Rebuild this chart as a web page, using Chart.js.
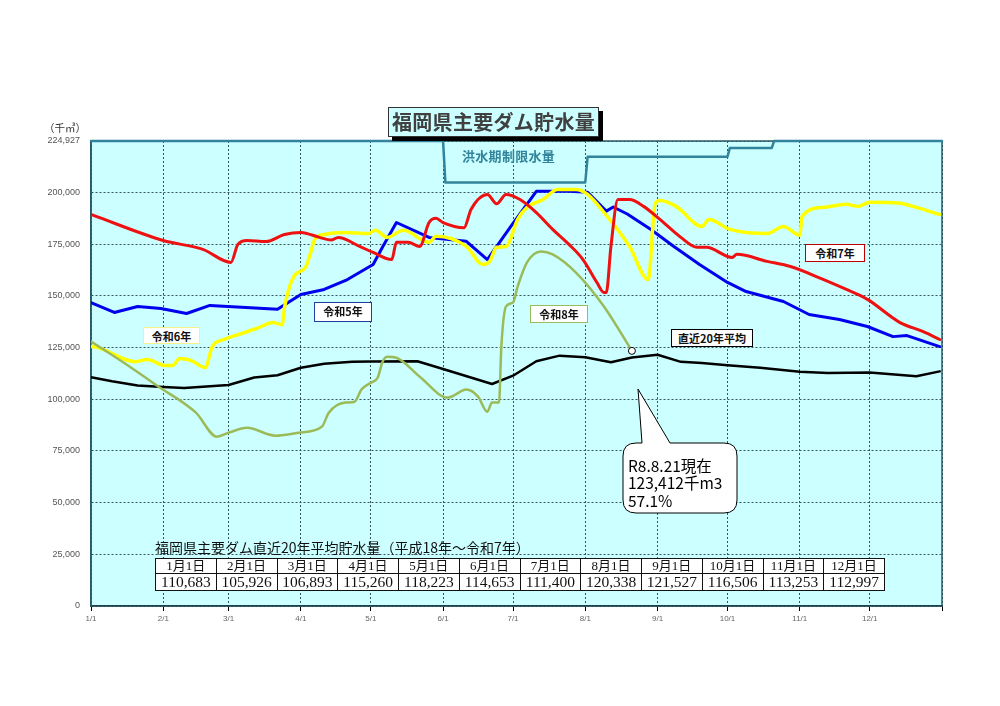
<!DOCTYPE html>
<html><head><meta charset="utf-8">
<script src="https://cdn.jsdelivr.net/npm/chart.js@4.4.1/dist/chart.umd.min.js"></script>
<style>
body{margin:0;background:#fff;}
#wrap{position:relative;width:1000px;height:706px;overflow:hidden;font-family:"Noto Sans CJK JP","Noto Sans",sans-serif;}
#c{position:absolute;left:0;top:0;}
.lbl{position:absolute;background:#fff;font-weight:bold;font-size:11px;color:#111;text-align:center;box-sizing:border-box;line-height:16px;}
#title{position:absolute;left:388px;top:107px;width:211px;height:30px;background:#ccffff;border:1px solid #333;box-shadow:4px 4px 0 #000;box-sizing:border-box;font-size:20px;font-weight:bold;color:#404040;text-align:center;line-height:27px;letter-spacing:0.3px;}
#unit{position:absolute;left:44px;top:120px;font-size:10.5px;color:#333;}
#flood{position:absolute;left:462px;top:146px;font-size:13px;font-weight:bold;color:#31849b;letter-spacing:0.3px;}
#ttl2{position:absolute;left:155px;top:537px;font-size:14px;color:#111;white-space:nowrap;}
#tbl{position:absolute;left:155px;top:558px;border-collapse:collapse;table-layout:fixed;width:730px;background:#fff;}
#tbl td{border:1px solid #111;text-align:center;padding:0;font-family:"Liberation Serif","Noto Sans CJK JP",serif;color:#111;overflow:hidden;white-space:nowrap;}
#tbl tr.h td{height:14px;font-size:13px;line-height:14px;}
#tbl tr.v td{height:16px;font-size:15.5px;line-height:16px;}
#call{position:absolute;left:0;top:0;}
</style></head>
<body><div id="wrap">
<canvas id="c" width="1000" height="706"></canvas>
<div id="title">福岡県主要ダム貯水量</div>
<div id="unit">（千㎥）</div>
<div id="flood">洪水期制限水量</div>
<div class="lbl" style="left:143px;top:327px;width:57px;height:17px;border:1px solid #f4f08a;">令和6年</div>
<div class="lbl" style="left:314px;top:302px;width:58px;height:20px;border:1.5px solid #1f3fa0;line-height:17px;">令和5年</div>
<div class="lbl" style="left:530px;top:305px;width:58px;height:18px;border:1.5px solid #9bbb59;">令和8年</div>
<div class="lbl" style="left:805px;top:244px;width:60px;height:18px;border:1px solid #c00000;">令和7年</div>
<div class="lbl" style="left:671px;top:329px;width:82px;height:18px;border:1.5px solid #000;">直近20年平均</div>
<svg id="call" width="1000" height="706">
<path d="M636 443 L642 443 L638 389 L670 443 L724 443 Q737 443 737 456 L737 500 Q737 513 724 513 L636 513 Q623 513 623 500 L623 456 Q623 443 636 443 Z" fill="#fff" stroke="#000" stroke-width="1"/>
<text x="628" y="472" font-size="15.5" font-family="Noto Sans CJK JP" fill="#000">R8.8.21現在</text>
<text x="628" y="489" font-size="15.5" font-family="Noto Sans CJK JP" fill="#000">123,412千m3</text>
<text x="628" y="507" font-size="15.5" font-family="Noto Sans CJK JP" fill="#000">57.1%</text>
</svg>
<div id="ttl2">福岡県主要ダム直近20年平均貯水量（平成18年～令和7年）</div>
<table id="tbl"><tr class="h" id="hrow"></tr><tr class="v" id="vrow"></tr></table>
</div>
<script>
// ---- axis ticks ----
const monthDays = [0, 31, 59, 90, 120, 151, 181, 212, 243, 273, 304, 334, 365];
const monthLabels = ['1/1','2/1','3/1','4/1','5/1','6/1','7/1','8/1','9/1','10/1','11/1','12/1',''];
const yTicks = [0, 25000, 50000, 75000, 100000, 125000, 150000, 175000, 200000, 224927];

// ---- table (20-year average on 1st of month) ----
const tableLabels = ['1月1日','2月1日','3月1日','4月1日','5月1日','6月1日','7月1日','8月1日','9月1日','10月1日','11月1日','12月1日'];
const tableValues = [110683, 105926, 106893, 115260, 118223, 114653, 111400, 120338, 121527, 116506, 113253, 112997];

// ---- series (day of year, 千m3) ----
const avgDays = [0, 9, 20, 31, 40, 59, 70, 80, 90, 100, 112, 120, 140, 151, 172, 181, 191, 201, 212, 223, 232, 243, 253, 262, 273, 287, 304, 316, 334, 354, 364];
const avgValues = [110683, 108700, 106700, 105926, 105500, 106893, 110500, 111600, 115260, 117200, 118100, 118223, 118400, 114653, 107400, 111400, 118400, 121100, 120338, 117900, 120200, 121527, 118100, 117600, 116506, 115200, 113253, 112700, 112997, 111100, 113500];

const r5Days = [0, 10, 20, 30, 41, 51, 80, 90, 100, 110, 121, 125, 131, 145, 161, 170, 180, 191, 205, 213, 221, 224, 230, 240, 250, 261, 273, 281, 297, 308, 321, 333, 344, 350, 364];
const r5Values = [146800, 142000, 144900, 143900, 141500, 145400, 143500, 150700, 153100, 157900, 165200, 173500, 185500, 178300, 176400, 167600, 183500, 200600, 200600, 200100, 191000, 193000, 189600, 182200, 173900, 165200, 156500, 152100, 147300, 141000, 138600, 135200, 130300, 130800, 125500];

const r6Days = [0, 3, 19, 24, 32, 35, 38, 43, 49, 52, 57, 66, 72, 78, 82, 83, 87, 92, 94, 96, 100, 109, 119, 122, 127, 134, 145, 148, 161, 168, 171, 174, 178, 183, 187, 194, 200, 208, 213, 220, 231, 239, 242, 244, 251, 262, 265, 274, 290, 297, 304, 305, 314, 324, 329, 334, 347, 354, 364];
const r6Values = [125500, 125000, 118200, 119200, 116300, 116300, 119700, 118700, 115300, 125500, 128900, 132300, 134700, 137100, 136100, 144400, 159400, 163800, 170100, 177400, 179700, 180700, 180200, 181700, 178300, 181700, 175900, 178800, 173900, 165200, 166700, 173500, 173900, 187000, 192800, 196700, 201500, 201500, 199100, 190400, 173900, 157900, 194800, 196200, 193300, 183600, 187000, 182200, 180200, 183600, 179300, 188500, 192800, 194300, 193300, 195300, 194800, 192800, 189400];

const r7Days = [0, 31, 48, 60, 63, 67, 75, 83, 90, 98, 103, 106, 115, 121, 129, 131, 136, 141, 145, 148, 151, 160, 163, 170, 174, 178, 184, 191, 198, 205, 211, 217, 220, 221, 223, 226, 231, 237, 244, 253, 260, 264, 275, 277, 290, 300, 314, 324, 333, 347, 357, 364];
const r7Values = [189400, 176800, 172500, 166200, 174900, 176800, 176300, 179700, 180700, 178300, 177000, 178300, 174100, 171000, 167600, 175900, 175900, 173900, 185500, 187500, 185500, 183000, 191800, 199000, 194600, 199000, 196600, 190300, 182200, 174900, 167600, 156500, 151600, 151600, 173900, 196600, 196600, 193300, 187000, 178300, 173500, 173500, 168600, 170100, 166700, 164200, 158000, 153100, 148300, 137100, 132700, 128900];

const r8Days = [0, 12, 29, 45, 54, 59, 67, 79, 89, 99, 102, 109, 113, 116, 120, 123, 125, 127, 131, 141, 153, 161, 166, 170, 172, 175, 176, 178, 181, 183, 187, 193, 198, 208, 220, 232];
const r8Values = [127900, 119200, 106100, 93500, 81900, 83800, 86200, 82400, 83800, 86700, 93500, 98400, 98800, 104700, 108000, 110500, 118000, 120600, 120100, 110900, 100800, 104700, 101300, 94000, 98400, 98400, 125500, 144900, 146800, 154600, 166200, 171500, 170100, 161300, 144900, 123412];

const floodDays = [0, 151, 152, 212, 213, 273, 274, 292, 293, 365];
const floodValues = [224927, 224927, 204900, 204900, 217300, 217300, 221600, 221600, 224927, 224927];

// ---- table build ----
const hrow = document.getElementById('hrow'), vrow = document.getElementById('vrow');
tableLabels.forEach((l, i) => {
  const a = document.createElement('td'); a.textContent = l; hrow.appendChild(a);
  const b = document.createElement('td'); b.textContent = tableValues[i].toLocaleString('en-US'); vrow.appendChild(b);
});

const pts = (d, v) => d.map((x, i) => ({x: x, y: v[i]}));

const bgPlugin = {
  id: 'bg',
  beforeDraw(chart) {
    const {ctx, chartArea: a} = chart;
    ctx.save();
    ctx.fillStyle = '#ccffff';
    ctx.fillRect(a.left, a.top, a.right - a.left, a.bottom - a.top);
    ctx.restore();
  },
  beforeDatasetsDraw(chart) {
    const {ctx, chartArea: a} = chart;
    ctx.save();
    ctx.strokeStyle = '#2a5a66';
    ctx.lineWidth = 1.5;
    ctx.strokeRect(a.left, a.top, a.right - a.left, a.bottom - a.top);
    ctx.restore();
  }
};

const common = {pointRadius: 0, borderJoinStyle: 'round', borderCapStyle: 'round', fill: false};

new Chart(document.getElementById('c'), {
  type: 'line',
  data: {
    datasets: [
      Object.assign({}, common, {label: '令和8年', data: pts(r8Days, r8Values), borderColor: '#9bbb59', borderWidth: 2.5, cubicInterpolationMode: 'monotone',
        pointRadius: r8Days.map((d, i) => i === r8Days.length - 1 ? 3.5 : 0), pointBackgroundColor: '#fff', pointBorderColor: '#000', pointBorderWidth: 1}),
      Object.assign({}, common, {label: '令和7年', data: pts(r7Days, r7Values), borderColor: '#ee1111', borderWidth: 3, cubicInterpolationMode: 'monotone'}),
      Object.assign({}, common, {label: '令和6年', data: pts(r6Days, r6Values), borderColor: '#ffff00', borderWidth: 3.5, cubicInterpolationMode: 'monotone'}),
      Object.assign({}, common, {label: '令和5年', data: pts(r5Days, r5Values), borderColor: '#0000ee', borderWidth: 3}),
      Object.assign({}, common, {label: '直近20年平均', data: pts(avgDays, avgValues), borderColor: '#000', borderWidth: 2.5}),
      Object.assign({}, common, {label: '洪水期制限水量', data: pts(floodDays, floodValues), borderColor: '#31849b', borderWidth: 2.5, clip: false})
    ]
  },
  options: {
    responsive: false,
    animation: false,
    layout: {padding: {left: 0, right: 58, top: 141, bottom: 70}},
    plugins: {legend: {display: false}, tooltip: {enabled: false}},
    scales: {
      x: {
        type: 'linear', min: 0, max: 365,
        afterBuildTicks: s => { s.ticks = monthDays.map(v => ({value: v})); },
        afterFit: s => { s.height = 30; },
        ticks: {
          autoSkip: false, maxRotation: 0, padding: 3, color: '#666',
          font: {size: 8, family: 'Liberation Sans'},
          callback: v => { const i = monthDays.indexOf(v); return i >= 0 ? monthLabels[i] : ''; }
        },
        grid: {color: '#35555c', lineWidth: 1, tickColor: '#000', tickLength: 5},
        border: {dash: [2, 2], color: '#000', width: 1.5}
      },
      y: {
        min: 0, max: 224927,
        afterBuildTicks: s => { s.ticks = yTicks.map(v => ({value: v})); },
        afterFit: s => { s.width = 91; },
        ticks: {
          padding: 11, color: '#555',
          font: {size: 9, family: 'Liberation Sans'},
          callback: v => Number(v).toLocaleString('en-US')
        },
        grid: {color: '#35555c', lineWidth: 1, drawTicks: false},
        border: {dash: [2, 2], color: '#2a5a66', width: 1.5}
      }
    }
  },
  plugins: [bgPlugin]
});
</script>
</body></html>
